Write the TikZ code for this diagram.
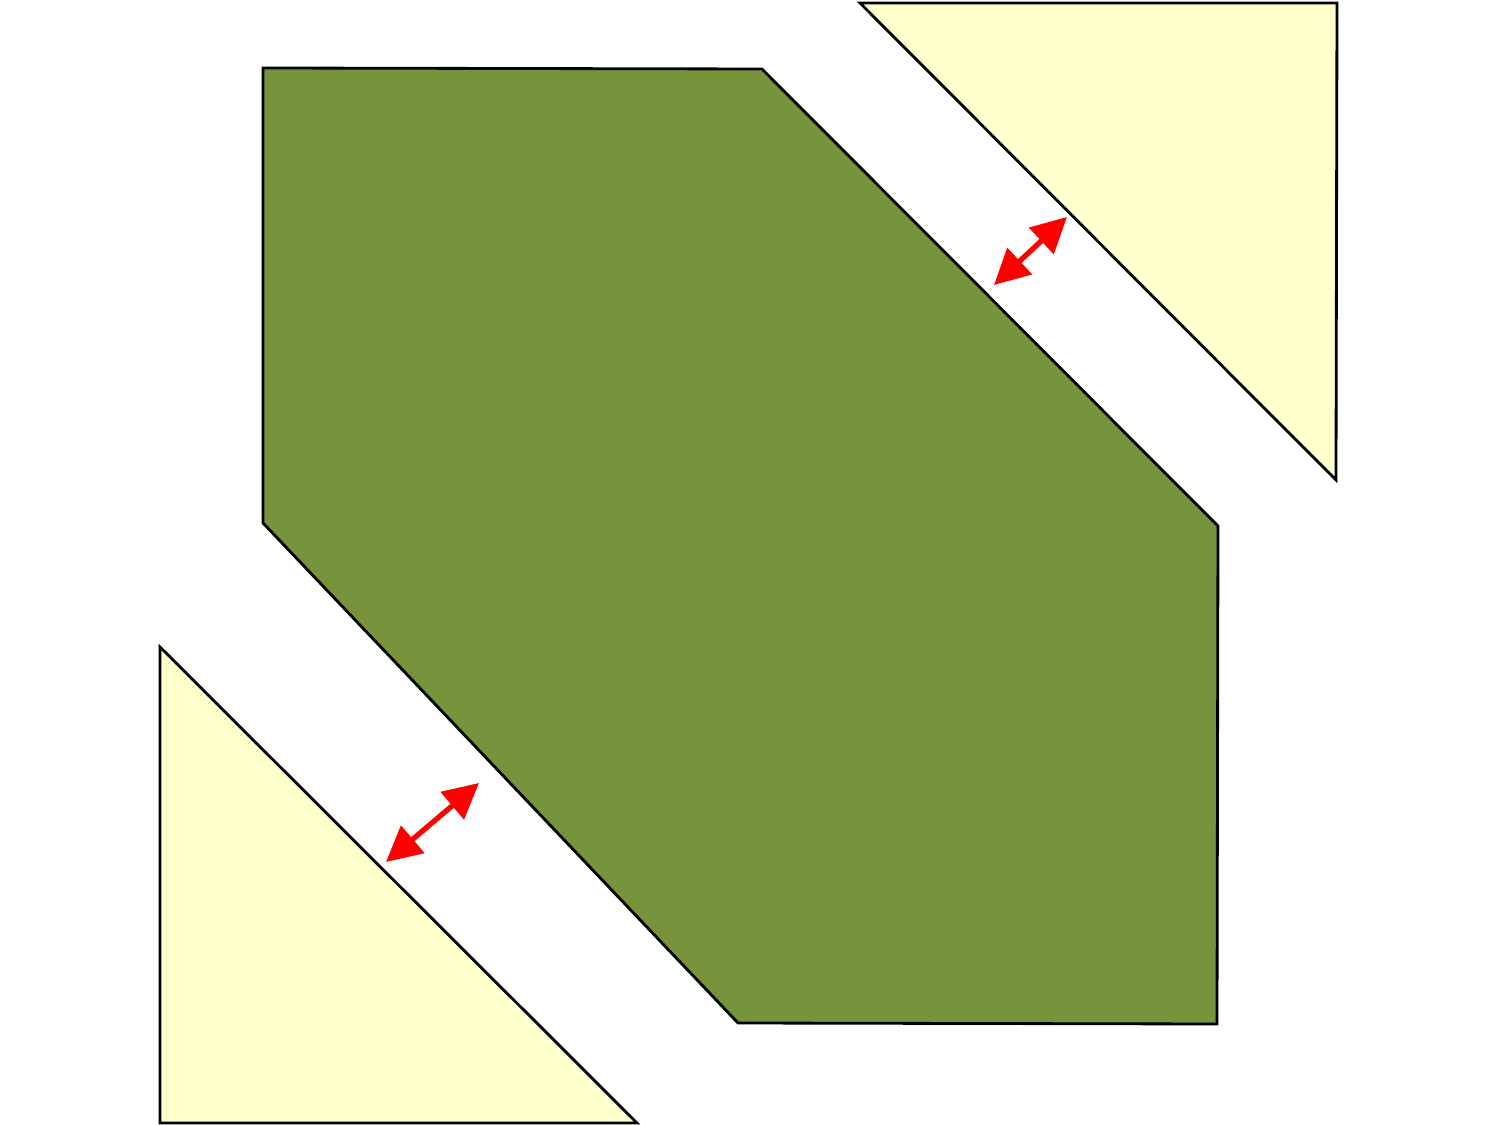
\documentclass[tikz,border=0pt]{standalone}
\usetikzlibrary{arrows.meta}
\definecolor{olivegreen}{RGB}{119,147,60}
\definecolor{palecream}{RGB}{255,255,204}

\begin{document}
\begin{tikzpicture}[x=1cm,y=1cm]
  \useasboundingbox (0,0) rectangle (15,11.25);
  \begin{scope}[
    every path/.style={draw=black,line width=0.8pt,line join=miter},
    centre/.style={fill=olivegreen},
    corner/.style={fill=palecream},
    ]
    \path[centre] (2.63,10.57) -- (7.62,10.56) -- (12.18,5.99) -- (12.17,1.01)
      -- (7.38,1.02) -- (2.63,6.02) -- cycle;
    \path[corner] (8.60,11.22) -- (13.37,11.22) -- (13.36,6.45) -- cycle;
    \path[corner] (1.60,4.78) -- (1.60,0.02) -- (6.37,0.02) -- cycle;
  \end{scope}
  \coordinate (gapA1) at (9.94,8.40);
  \coordinate (gapA2) at (10.67,9.08);
  \coordinate (gapB1) at (3.86,2.63);
  \coordinate (gapB2) at (4.79,3.42);
  \begin{scope}[
    every path/.style={draw=red,line width=1.5pt,{Triangle[length=10pt,width=10pt]}-{Triangle[length=10pt,width=10pt]}},
    ]
    \path (gapA1) -- (gapA2);
    \path (gapB1) -- (gapB2);
  \end{scope}
\end{tikzpicture}
\end{document}
